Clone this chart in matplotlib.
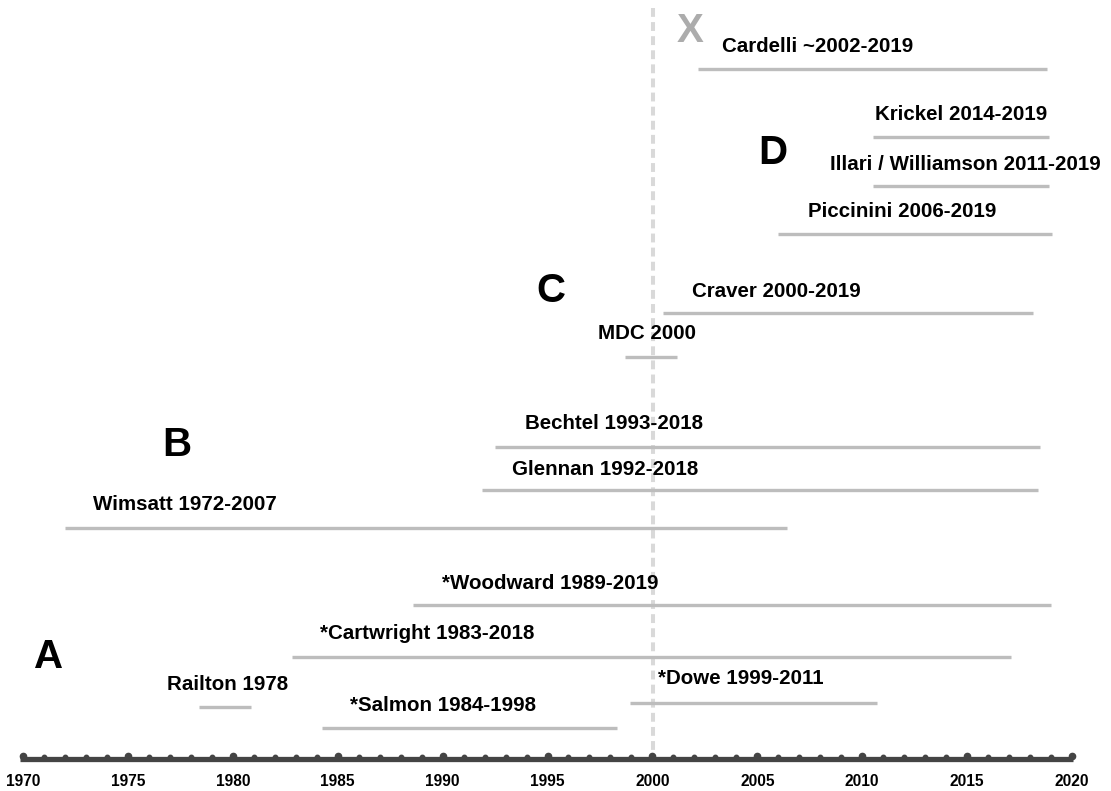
import numpy as np
import matplotlib.pyplot as plt

plt.rcParams['font.family'] = ['Liberation Sans', 'DejaVu Sans']

# periods (start, end) in years, row level (0 = top of page, px-like units)
names = ["Cardelli ~2002-2019", "Krickel 2014-2019", "Illari / Williamson 2011-2019",
         "Piccinini 2006-2019", "Craver 2000-2019", "MDC 2000",
         "Bechtel 1993-2018", "Glennan 1992-2018", "Wimsatt 1972-2007",
         "*Woodward 1989-2019", "*Cartwright 1983-2018", "*Dowe 1999-2011",
         "*Salmon 1984-1998", "Railton 1978"]
starts = [2002.17, 2010.51, 2010.51, 2005.99, 2000.50, 1998.69, 1992.50, 1991.88,
          1972.00, 1988.59, 1982.82, 1998.93, 1984.25, 1978.39]
ends = [2018.81, 2018.90, 2018.90, 2019.05, 2018.14, 2001.17, 2018.47, 2018.38,
        2006.42, 2019.00, 2017.09, 2010.71, 1998.31, 1980.87]
rows = [69, 137, 186, 234, 313, 357, 447, 490, 528, 605, 657, 703, 728, 707]
label_x = [2003.32, 2010.61, 2008.47, 2007.42, 2001.89, 1997.41, 1993.93, 1993.31,
           1973.34, 1989.97, 1984.16, 2000.27, 1985.59, 1976.86]
label_row = [45, 113, 163, 210, 290, 332, 422, 468, 503, 582, 632, 677, 704, 683]

groups = ["A", "B", "C", "D", "X"]
group_x = [1971.24, 1977.34, 1995.17, 2005.75, 2001.79]
group_row = [655, 443, 290, 152, 29]
group_col = ["black", "black", "black", "black", "#acacac"]

years = np.arange(1970, 2021)
year_labels = [str(y) for y in range(1970, 2021, 5)]

px_per_year = 20.98
x0 = 1970 - 23 / px_per_year
fig = plt.figure(figsize=(11.11, 7.91), dpi=100)
ax = fig.add_axes([0, 0, 1, 1])
ax.set_xlim(x0, x0 + 1111 / px_per_year)
ax.set_ylim(791, 0)
ax.axis('off')

# the 2000 marker
ax.vlines(2000.03, 8, 758, colors='#d9d9d9', linestyles=(0, (2.2, 1.3)), linewidth=2.9, zorder=1)

for s, e, r in zip(starts, ends, rows):
    ax.plot([s, e], [r, r], color='#bdbdbd', lw=2.4, solid_capstyle='butt', zorder=2)
for n, lx, lr in zip(names, label_x, label_row):
    ax.text(lx, lr + 1.5, n, fontsize=14.8, fontweight='bold', ha='left', va='center', zorder=3)

for g, gx, gr, gc in zip(groups, group_x, group_row, group_col):
    ax.text(gx, gr + 1.5, g, fontsize=29, fontweight='bold', color=gc, ha='center', va='center')

# timeline axis
ax.plot([1969.85, 2020.05], [758.5, 758.5], color='#444444', lw=3.8, solid_capstyle='butt', zorder=4)
minor = [y for y in years if y % 5]
major = [y for y in years if y % 5 == 0]
ax.plot(minor, [757] * len(minor), 'o', ms=3.2, color='#444444', zorder=4)
ax.plot(major, [755.5] * len(major), 'o', ms=4.5, color='#444444', zorder=4)
for y, lbl in zip(range(1970, 2021, 5), year_labels):
    ax.text(y, 782, lbl, fontsize=11.2, fontweight='bold', ha='center', va='center')

fig.savefig("out.png", dpi=100)
